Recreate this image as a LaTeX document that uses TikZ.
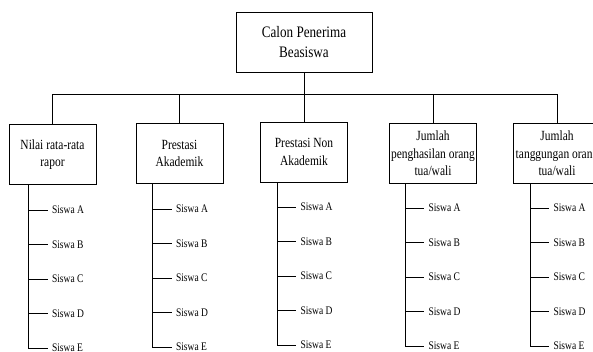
\documentclass[tikz,border=0pt]{standalone}
\usepackage{fontspec}
\setmainfont[FakeStretch=0.82]{Liberation Serif}
\tikzset{
	box/.style={draw, minimum height=60pt, inner xsep=0pt, align=center},
	kriteria/.style={box, minimum width=87pt, font=\fontsize{14}{17.5}\selectfont},
	siswa/.style={anchor=west, inner xsep=4pt, inner ysep=0pt, font=\fontsize{11.6}{13}\selectfont}
}

\begin{document}
\begin{tikzpicture}[x=1pt, y=-1pt, line width=0.7pt]
	\clip (0,0) rectangle (593,351);

	\node[box, minimum width=136pt, font=\fontsize{16}{20}\selectfont] (top) at (304,42) {Calon Penerima\\Beasiswa};

	\node[kriteria] (c1) at (52.5,154.5) {Nilai rata-rata\\rapor};
	\node[kriteria] (c2) at (179.5,153.5) {Prestasi\\Akademik};
	\node[kriteria] (c3) at (304,152) {Prestasi Non\\Akademik};
	\node[kriteria] (c4) at (433,153.5) {Jumlah\\penghasilan orang\\tua/wali};
	\node[kriteria] (c5) at (557,153.5) {Jumlah\\tanggungan orang\\tua/wali};

	\coordinate (b0) at (304,94);
	\foreach \i in {1,...,5}
	{
		\coordinate (b\i) at (c\i |- b0);
	};

	\draw (top) -- (b0);
	\draw (b1) -- (b5);
	\foreach \i in {1,...,5}
	{
		\draw (b\i) -- (c\i);
	};

	\foreach \i / \d / \y in {1/20/210, 2/17/209, 3/17/207, 4/16/208, 5/17/208}
	{
		\coordinate (p\i) at ([xshift=\d pt]c\i.south west);
		\foreach \j / \n in {1/A, 2/B, 3/C, 4/D, 5/E}
		{
			\node[siswa] (s\i\j) at ([xshift=19pt]p\i |- 0,{\y+34.5*(\j-1)}) {Siswa \n};
		};
		\draw (p\i) |- (s\i5);
		\foreach \j in {1,...,4}
		{
			\draw (p\i |- s\i\j) -- (s\i\j);
		};
	};
\end{tikzpicture}
\end{document}
